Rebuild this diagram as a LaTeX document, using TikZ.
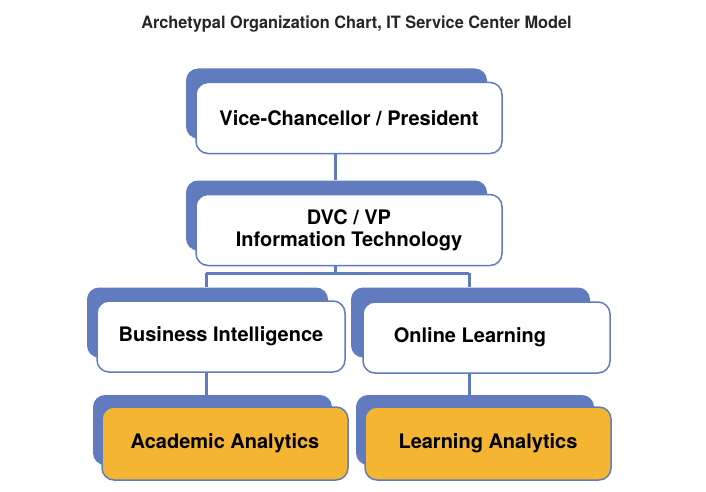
\documentclass[tikz,border=0pt]{standalone}
\usepackage{fontspec}
\setmainfont{TeX Gyre Heros}
\newfontfamily\titlefont[FakeStretch=0.96]{TeX Gyre Heros}
\definecolor{shblue}{RGB}{96,123,190}
\definecolor{boxorange}{RGB}{243,181,50}
\begin{document}
\begin{tikzpicture}[x=1pt,y=-1pt,
  frontbox/.style={draw=shblue, line width=1.5pt, fill=white, rounded corners=12pt,
    minimum height=71pt, inner sep=0pt, font=\fontsize{20}{21}\selectfont\bfseries, align=center},
  orangebox/.style={frontbox, fill=boxorange},
  shadowbox/.style={fill=shblue, rounded corners=12pt, minimum height=70pt, inner sep=0pt},
  conn/.style={draw=shblue, line width=3pt}]
\useasboundingbox (0,0) rectangle (706,492);
\node[font=\titlefont\fontsize{17}{20}\selectfont\bfseries, text=black!85] (title) at (356.5,24) {Archetypal Organization Chart, IT Service Center Model};
% connector anchors
\coordinate (split) at (335,273);
\coordinate (splitL) at (206,273);
\coordinate (splitR) at (469,273);
% shadows
\node[shadowbox, minimum width=301pt] (vcs) at (336.5,103.5) {};
\node[shadowbox, minimum width=301pt] (dvcs) at (336.5,215.5) {};
\node[shadowbox, minimum width=241pt] (bis) at (207.5,322.5) {};
\node[shadowbox, minimum width=239pt] (ols) at (470.5,322.5) {};
\node[shadowbox, minimum width=239pt] (aas) at (212.5,430) {};
\node[shadowbox, minimum width=238pt] (las) at (475,430) {};
% front boxes
\node[frontbox, minimum width=306pt] (vc) at (349,118) {Vice-Chancellor / President};
\node[frontbox, minimum width=306pt] (dvc) at (349,230) {DVC / VP\\[1pt]Information Technology};
\node[frontbox, minimum width=248pt] (bi) at (221,336.5) {\raisebox{3pt}{Business Intelligence}};
\node[frontbox, minimum width=247pt] (ol) at (486.5,337.5) {Online Learning\hspace{33pt}};
\node[orangebox, minimum width=246pt, minimum height=73pt] (aa) at (225,443.5) {Academic Analytics};
\node[orangebox, minimum width=246pt, minimum height=73pt] (la) at (488,443.5) {Learning Analytics};
% connectors
\path[conn] (vc.south -| split) -- (dvcs.north -| split);
\path[conn] (dvc.south -| split) -- (split);
\path[conn] (splitL) -- (splitR);
\path[conn] (splitL) -- (bis.north -| splitL);
\path[conn] (splitR) -- (ols.north -| splitR);
\path[conn] (bi.south -| splitL) -- (aas.north -| splitL);
\path[conn] (ol.south -| splitR) -- (las.north -| splitR);
\end{tikzpicture}
\end{document}
